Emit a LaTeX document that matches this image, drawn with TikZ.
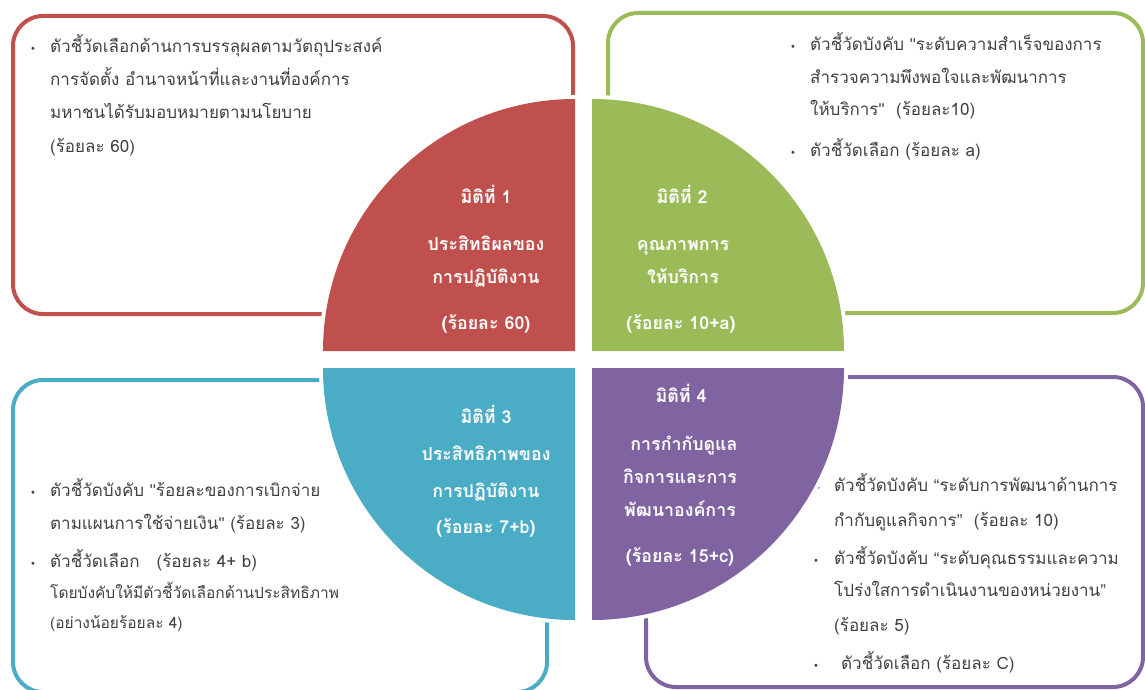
\documentclass[tikz,border=0pt]{standalone}
\usepackage{fontspec}
\setmainfont[Script=Thai]{Loma}
\newfontfamily\bulletfont{DejaVu Sans}
\newfontfamily\latinfont{Liberation Sans}
\newcommand\myquote{{\latinfont\symbol{34}}}
\definecolor{cred}{HTML}{C0504D}
\definecolor{cgreen}{HTML}{9BBB59}
\definecolor{cblue}{HTML}{4BACC6}
\definecolor{cpurple}{HTML}{8064A2}
\definecolor{tgray}{HTML}{404040}
\begin{document}
\begin{tikzpicture}[x=1pt,y=-1pt,
  boxline/.style={line width=4pt, rounded corners=30pt},
  quadgap/.style={draw=white, line width=8pt},
  bt/.style={anchor=base west, text=tgray, inner sep=0pt, font=\fontsize{17}{20}\selectfont},
  btsmall/.style={bt, font=\fontsize{15.5}{18}\selectfont},
  bul/.style={anchor=base, text=tgray, inner sep=0pt, font=\bulletfont\fontsize{10}{12}\selectfont},
  qt/.style={anchor=base, text=white, inner sep=0pt, font=\bfseries\fontsize{17.8}{20}\selectfont}]
\useasboundingbox (0,0) rectangle (1145,690);
% boxes
\draw[boxline, draw=cred] (13,16) rectangle (573,314);
\draw[boxline, draw=cgreen] (608,13) rectangle (1143,313);
\draw[boxline, draw=cblue] (13,380) rectangle (547,692);
\draw[boxline, draw=cpurple] (646,377) rectangle (1143,687);
% box texts
\node[bul] (rb1) at (33,53) {•};
\node[bt] (r1) at (50,53) {ตัวชี้วัดเลือกด้านการบรรลุผลตามวัตถุประสงค์};
\node[bt] (r2) at (50,86) {การจัดตั้ง อำนาจหน้าที่และงานที่องค์การ};
\node[bt] (r3) at (50,119) {มหาชนได้รับมอบหมายตามนโยบาย};
\node[bt] (r4) at (50,153) {(ร้อยละ 60)};
\node[bul] (gb1) at (793,51) {•};
\node[bt] (g1) at (810,51) {ตัวชี้วัดบังคับ \myquote ระดับความสำเร็จของการ};
\node[bt] (g2) at (810,84) {สำรวจความพึงพอใจและพัฒนาการ};
\node[bt] (g3) at (810,116) {ให้บริการ\myquote~~(ร้อยละ10)};
\node[bul] (gb2) at (793,156) {•};
\node[bt] (g4) at (810,156) {ตัวชี้วัดเลือก (ร้อยละ a)};
\node[bul] (bb1) at (33,496) {•};
\node[bt] (b1) at (50,496) {ตัวชี้วัดบังคับ \myquote ร้อยละของการเบิกจ่าย};
\node[bt] (b2) at (50,529) {ตามแผนการใช้จ่ายเงิน\myquote\ (ร้อยละ 3)};
\node[bul] (bb2) at (33,567) {•};
\node[bt] (b3) at (50,567) {ตัวชี้วัดเลือก\hspace{1em}(ร้อยละ 4+ b)};
\node[btsmall] (b4) at (50,598) {โดยบังคับให้มีตัวชี้วัดเลือกด้านประสิทธิภาพ};
\node[btsmall] (b5) at (50,628) {(อย่างน้อยร้อยละ 4)};
\node[bul] (pb1) at (818,491) {•};
\node[bt] (p1) at (834,491) {ตัวชี้วัดบังคับ {\latinfont “}ระดับการพัฒนาด้านการ};
\node[bt] (p2) at (834,526) {กำกับดูแลกิจการ{\latinfont ”}~~(ร้อยละ 10)};
\node[bul] (pb2) at (816,564) {•};
\node[bt] (p3) at (834,564) {ตัวชี้วัดบังคับ {\latinfont “}ระดับคุณธรรมและความ};
\node[bt] (p4) at (834,596) {โปร่งใสการดำเนินงานของหน่วยงาน{\latinfont ”}};
\node[bt] (p5) at (834,631) {(ร้อยละ 5)};
\node[bul] (pb3) at (816,669) {•};
\node[bt] (p6) at (841,669) {ตัวชี้วัดเลือก (ร้อยละ C)};
% quadrants
\path[quadgap] (575,351) -- (323,351) arc[start angle=180, end angle=270, radius=252] -- cycle;
\fill[cred] (575,351) -- (323,351) arc[start angle=180, end angle=270, radius=252] -- cycle;
\path[quadgap] (592,351) -- (844,351) arc[start angle=0, end angle=-90, radius=252] -- cycle;
\fill[cgreen] (592,351) -- (844,351) arc[start angle=0, end angle=-90, radius=252] -- cycle;
\path[quadgap] (575,368) -- (323,368) arc[start angle=180, end angle=90, radius=252] -- cycle;
\fill[cblue] (575,368) -- (323,368) arc[start angle=180, end angle=90, radius=252] -- cycle;
\path[quadgap] (592,368) -- (844,368) arc[start angle=0, end angle=90, radius=252] -- cycle;
\fill[cpurple] (592,368) -- (844,368) arc[start angle=0, end angle=90, radius=252] -- cycle;
% quadrant texts
\node[qt] (q1a) at (486,203) {มิติที่ 1};
\node[qt] (q1b) at (486,250) {ประสิทธิผลของ};
\node[qt] (q1c) at (486,283) {การปฏิบัติงาน};
\node[qt] (q1d) at (486,329) {(ร้อยละ 60)};
\node[qt] (q2a) at (682,203) {มิติที่ 2};
\node[qt] (q2b) at (683,250) {คุณภาพการ};
\node[qt] (q2c) at (683,283) {ให้บริการ};
\node[qt] (q2d) at (681,329) {(ร้อยละ 10+a)};
\node[qt] (q3a) at (486,423) {มิติที่ 3};
\node[qt] (q3b) at (486,460) {ประสิทธิภาพของ};
\node[qt] (q3c) at (486,497) {การปฏิบัติงาน};
\node[qt] (q3d) at (486,533) {(ร้อยละ 7+b)};
\node[qt] (q4a) at (681,402) {มิติที่ 4};
\node[qt] (q4b) at (684,450) {การกำกับดูแล};
\node[qt] (q4c) at (680,483) {กิจการและการ};
\node[qt] (q4d) at (680,516) {พัฒนาองค์การ};
\node[qt] (q4e) at (680,562) {(ร้อยละ 15+c)};
\end{tikzpicture}
\end{document}
